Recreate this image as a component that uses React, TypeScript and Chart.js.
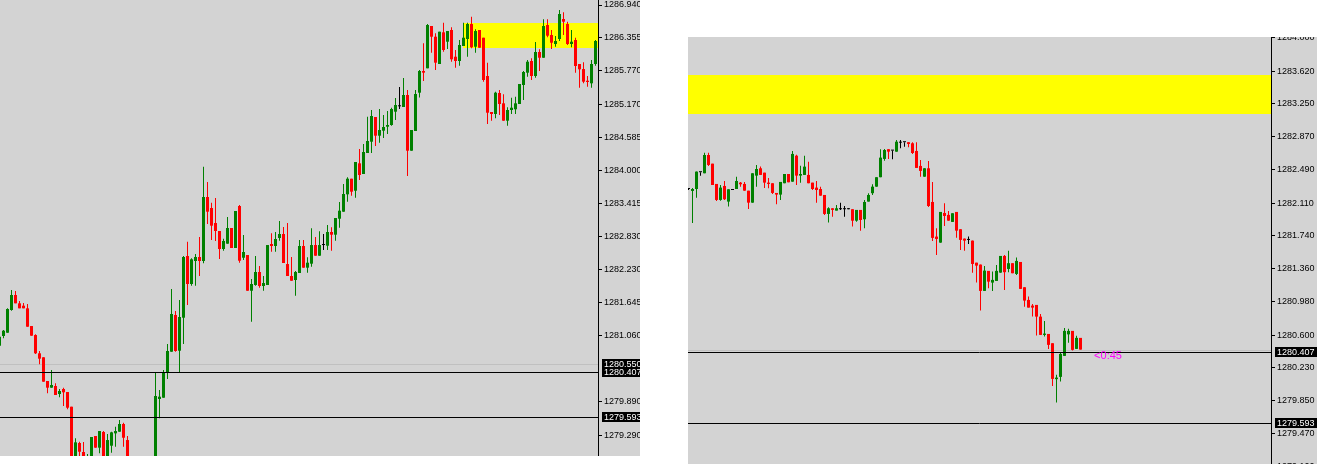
import React, { useEffect, useRef } from "react";
import { Chart, registerables } from "chart.js";

Chart.register(...registerables);

// ---------- LEFT PANEL DATA (one candle per index) ----------
const LEFT_OPEN = [
  1280.879, 1281.052, 1281.110, 1281.514, 1281.781, 1281.633, 1281.591, 1281.544, 1281.229, 1281.069,
  1280.744, 1280.673, 1280.251, 1280.132, 1280.162, 1280.020, 1280.109, 1280.055, 1279.794, 1278.800,
  1279.148, 1278.988, 1278.700, 1278.850, 1279.273, 1279.065, 1279.344, 1278.880, 1279.100, 1279.320,
  1279.349, 1279.486, 1279.201, 1278.850, 1278.700, 1278.780, 1278.720, 1278.800, 1278.740, 1278.850,
  1279.931, 1279.954, 1280.406, 1280.772, 1281.425, 1280.790, 1281.377, 1282.475, 1281.977, 1282.386,
  1282.457, 1282.386, 1283.524, 1283.329, 1283.062, 1282.920, 1282.599, 1282.694, 1282.973, 1282.617,
  1283.364, 1282.444, 1282.493, 1281.857, 1281.959, 1282.190, 1281.941, 1281.959, 1282.688, 1282.653,
  1282.795, 1282.866, 1282.332, 1282.119, 1282.048, 1282.172, 1282.653, 1282.267, 1282.338, 1282.670,
  1282.480, 1282.670, 1282.658, 1282.902, 1282.854, 1283.138, 1283.263, 1283.572, 1283.850, 1283.636,
  1284.124, 1283.934, 1284.307, 1284.508, 1284.948, 1284.615, 1284.704, 1284.775, 1284.805, 1285.042,
  1285.138, 1285.126, 1285.339, 1284.348, 1284.699, 1285.380, 1285.766, 1285.814, 1286.566, 1286.376,
  1285.890, 1286.454, 1286.287, 1286.495, 1286.020, 1285.944, 1286.211, 1286.335, 1286.602, 1286.198,
  1286.495, 1286.358, 1285.677, 1285.037, 1285.001, 1285.375, 1285.191, 1284.882, 1285.072, 1285.085,
  1285.179, 1285.517, 1285.736, 1285.944, 1285.677, 1286.104, 1286.002, 1286.584, 1286.406, 1286.246,
  1286.335, 1286.691, 1286.602, 1286.246, 1286.317, 1285.890, 1285.801, 1285.593, 1285.547, 1285.890,
];
const LEFT_HIGH = [
  1281.039, 1281.158, 1281.544, 1281.870, 1281.852, 1281.674, 1281.639, 1281.621, 1281.229, 1281.082,
  1280.785, 1280.673, 1280.251, 1280.447, 1280.210, 1280.109, 1280.132, 1280.055, 1279.794, 1279.232,
  1279.171, 1279.166, 1278.952, 1279.255, 1279.273, 1279.361, 1279.361, 1279.308, 1279.349, 1279.438,
  1279.557, 1279.509, 1279.273, 1278.880, 1278.820, 1278.820, 1278.840, 1278.860, 1278.880, 1280.406,
  1280.091, 1280.447, 1280.909, 1281.888, 1281.496, 1281.692, 1282.475, 1282.729, 1282.434, 1282.510,
  1282.813, 1284.063, 1283.791, 1283.423, 1283.507, 1282.920, 1282.783, 1283.169, 1282.973, 1283.275,
  1283.382, 1282.848, 1282.493, 1282.066, 1282.475, 1282.297, 1282.119, 1282.670, 1282.879, 1282.902,
  1283.097, 1282.991, 1283.062, 1282.457, 1282.208, 1282.759, 1282.759, 1282.452, 1282.967, 1282.813,
  1282.914, 1282.866, 1283.026, 1282.985, 1283.151, 1283.435, 1283.756, 1283.875, 1283.850, 1284.147,
  1284.378, 1284.467, 1284.953, 1285.072, 1284.948, 1285.090, 1284.983, 1285.054, 1285.113, 1285.286,
  1285.481, 1285.641, 1285.428, 1284.716, 1285.428, 1285.784, 1286.259, 1286.602, 1286.566, 1286.437,
  1286.465, 1286.625, 1286.477, 1286.543, 1286.140, 1286.317, 1286.625, 1286.625, 1286.732, 1286.508,
  1286.495, 1286.358, 1285.914, 1285.037, 1285.398, 1285.428, 1285.351, 1285.120, 1285.291, 1285.309,
  1285.535, 1285.766, 1285.962, 1285.992, 1286.282, 1286.152, 1286.686, 1286.686, 1286.495, 1286.389,
  1286.851, 1286.810, 1286.643, 1286.495, 1286.358, 1285.890, 1285.921, 1285.677, 1285.962, 1286.317,
];
const LEFT_LOW = [
  1280.879, 1281.011, 1281.110, 1281.502, 1281.633, 1281.544, 1281.544, 1281.217, 1281.057, 1280.731,
  1280.548, 1280.239, 1280.032, 1280.132, 1280.002, 1279.961, 1279.806, 1279.748, 1278.700, 1278.750,
  1278.850, 1278.750, 1278.650, 1278.800, 1279.065, 1278.965, 1278.800, 1278.850, 1278.976, 1279.082,
  1279.349, 1279.082, 1278.800, 1278.650, 1278.660, 1278.680, 1278.700, 1278.700, 1278.710, 1278.800,
  1279.587, 1279.954, 1280.287, 1280.772, 1280.772, 1280.406, 1280.909, 1281.603, 1281.946, 1281.946,
  1282.119, 1282.345, 1283.044, 1282.759, 1282.742, 1282.421, 1282.569, 1282.694, 1282.617, 1282.617,
  1282.356, 1282.404, 1281.857, 1281.306, 1281.946, 1281.911, 1281.857, 1281.959, 1282.551, 1282.551,
  1282.747, 1282.350, 1282.119, 1282.035, 1281.768, 1282.172, 1282.267, 1282.178, 1282.284, 1282.480,
  1282.480, 1282.582, 1282.582, 1282.569, 1282.747, 1282.978, 1283.263, 1283.441, 1283.547, 1283.512,
  1283.827, 1283.934, 1284.307, 1284.307, 1284.432, 1284.490, 1284.574, 1284.645, 1284.793, 1284.894,
  1285.090, 1285.126, 1283.898, 1284.348, 1284.699, 1285.294, 1285.588, 1285.814, 1286.091, 1285.784,
  1285.890, 1286.109, 1286.157, 1285.931, 1285.825, 1285.860, 1286.211, 1286.020, 1286.170, 1286.091,
  1286.180, 1285.576, 1284.823, 1284.882, 1284.925, 1284.983, 1284.882, 1284.793, 1285.001, 1285.001,
  1285.179, 1285.250, 1285.664, 1285.606, 1285.647, 1285.766, 1286.002, 1286.365, 1286.157, 1286.198,
  1286.300, 1286.406, 1286.228, 1286.188, 1285.736, 1285.469, 1285.547, 1285.487, 1285.469, 1285.860,
];
const LEFT_CLOSE = [
  1281.039, 1281.146, 1281.532, 1281.781, 1281.633, 1281.544, 1281.544, 1281.217, 1281.057, 1280.744,
  1280.648, 1280.239, 1280.132, 1280.180, 1280.002, 1280.073, 1280.050, 1279.776, 1278.750, 1279.160,
  1278.993, 1278.800, 1278.850, 1279.255, 1279.065, 1279.361, 1278.850, 1279.201, 1279.338, 1279.361,
  1279.486, 1279.242, 1278.850, 1278.700, 1278.780, 1278.720, 1278.800, 1278.740, 1278.820, 1279.984,
  1279.972, 1280.406, 1280.785, 1281.443, 1280.785, 1281.390, 1282.457, 1281.977, 1282.416, 1282.457,
  1282.386, 1283.524, 1283.263, 1283.014, 1282.920, 1282.599, 1282.742, 1282.973, 1282.617, 1283.275,
  1282.391, 1282.546, 1281.857, 1281.977, 1282.190, 1281.941, 1281.994, 1282.670, 1282.653, 1282.777,
  1282.866, 1282.350, 1282.119, 1282.035, 1282.190, 1282.653, 1282.267, 1282.356, 1282.670, 1282.480,
  1282.670, 1282.670, 1282.902, 1282.854, 1283.151, 1283.281, 1283.578, 1283.850, 1283.619, 1284.147,
  1283.916, 1284.325, 1284.521, 1284.965, 1284.615, 1284.716, 1284.770, 1284.805, 1285.090, 1285.161,
  1285.138, 1285.339, 1284.348, 1284.716, 1285.357, 1285.766, 1285.736, 1286.584, 1286.376, 1285.914,
  1286.465, 1286.140, 1286.477, 1285.974, 1285.944, 1286.228, 1286.358, 1286.602, 1286.188, 1286.477,
  1286.180, 1285.606, 1285.024, 1285.001, 1285.380, 1285.179, 1284.882, 1285.072, 1285.113, 1285.191,
  1285.535, 1285.748, 1285.931, 1285.677, 1286.104, 1286.002, 1286.566, 1286.394, 1286.269, 1286.300,
  1286.780, 1286.643, 1286.246, 1286.287, 1285.855, 1285.796, 1285.576, 1285.570, 1285.890, 1286.300,
];
const LEFT_TICKS = [
  "1286.940", "1286.355", "1285.770", "1285.170", "1284.585", "1284.000", "1283.415",
  "1282.830", "1282.230", "1281.645", "1281.060", "1279.890", "1279.290",
];
const LEFT_RANGE = [1278.917, 1287.029];
const LEFT_ZONE = [115.875, 1286.614, 1286.180]; // from index, top price, bottom price
const LEFT_LINES = [1280.407, 1279.593];
const LEFT_ASK_LINE = 1280.55;
const LEFT_TAGS = ["1280.550", "1280.407", "1279.593"];

// ---------- RIGHT PANEL DATA ----------
const RIGHT_OPEN = [
  1282.270, 1282.249, 1282.271, 1282.463, 1282.451, 1282.660, 1282.561, 1282.329, 1282.146, 1282.306,
  1282.127, 1282.260, 1282.271, 1282.344, 1282.329, 1282.252, 1282.115, 1282.424, 1282.508, 1282.458,
  1282.344, 1282.337, 1282.226, 1282.207, 1282.337, 1282.443, 1282.355, 1282.652, 1282.424, 1282.432,
  1282.432, 1282.344, 1282.287, 1282.271, 1282.203, 1281.986, 1282.051, 1282.024, 1282.040, 1282.040,
  1282.040, 1282.040, 1281.909, 1282.032, 1281.925, 1282.127, 1282.223, 1282.298, 1282.406, 1282.615,
  1282.726, 1282.710, 1282.698, 1282.801, 1282.806, 1282.806, 1282.794, 1282.706, 1282.535, 1282.412,
  1282.508, 1282.123, 1281.727, 1281.658, 1281.997, 1281.975, 1281.895, 1282.009, 1281.811, 1281.704,
  1281.689, 1281.681, 1281.429, 1281.407, 1281.106, 1281.335, 1281.201, 1281.220, 1281.315, 1281.506,
  1281.357, 1281.423, 1281.300, 1281.437, 1281.148, 1281.003, 1280.938, 1280.946, 1280.812, 1280.603,
  1280.614, 1280.508, 1280.097, 1280.123, 1280.363, 1280.609, 1280.649, 1280.443, 1280.569,
];
const RIGHT_HIGH = [
  1282.283, 1282.283, 1282.470, 1282.463, 1282.687, 1282.687, 1282.561, 1282.329, 1282.317, 1282.363,
  1282.268, 1282.260, 1282.412, 1282.352, 1282.352, 1282.252, 1282.451, 1282.546, 1282.527, 1282.458,
  1282.397, 1282.337, 1282.226, 1282.352, 1282.443, 1282.443, 1282.706, 1282.664, 1282.538, 1282.652,
  1282.584, 1282.344, 1282.363, 1282.298, 1282.203, 1282.063, 1282.051, 1282.089, 1282.115, 1282.077,
  1282.040, 1282.040, 1282.032, 1282.032, 1282.146, 1282.223, 1282.325, 1282.406, 1282.726, 1282.729,
  1282.726, 1282.710, 1282.832, 1282.832, 1282.806, 1282.806, 1282.806, 1282.806, 1282.603, 1282.508,
  1282.592, 1282.352, 1281.823, 1282.009, 1282.108, 1282.020, 1281.994, 1282.009, 1281.811, 1281.704,
  1281.727, 1281.681, 1281.429, 1281.407, 1281.392, 1281.335, 1281.327, 1281.403, 1281.506, 1281.517,
  1281.566, 1281.423, 1281.487, 1281.437, 1281.148, 1281.041, 1280.957, 1280.946, 1280.843, 1280.763,
  1280.614, 1280.508, 1280.146, 1280.401, 1280.683, 1280.672, 1280.649, 1280.592, 1280.569,
];
const RIGHT_LOW = [
  1282.260, 1281.883, 1282.172, 1282.424, 1282.451, 1282.535, 1282.317, 1282.135, 1282.138, 1282.146,
  1282.070, 1282.260, 1282.271, 1282.298, 1282.252, 1282.043, 1282.115, 1282.298, 1282.432, 1282.283,
  1282.280, 1282.215, 1282.097, 1282.146, 1282.337, 1282.348, 1282.355, 1282.317, 1282.344, 1282.432,
  1282.337, 1282.260, 1282.115, 1282.195, 1281.975, 1281.887, 1281.955, 1282.024, 1282.032, 1281.955,
  1282.040, 1281.841, 1281.898, 1281.795, 1281.823, 1282.127, 1282.203, 1282.298, 1282.406, 1282.595,
  1282.615, 1282.611, 1282.698, 1282.737, 1282.755, 1282.748, 1282.672, 1282.512, 1282.412, 1282.412,
  1282.066, 1281.677, 1281.517, 1281.658, 1281.849, 1281.909, 1281.895, 1281.715, 1281.574, 1281.566,
  1281.643, 1281.315, 1281.201, 1280.881, 1281.106, 1281.137, 1281.106, 1281.220, 1281.315, 1281.117,
  1281.320, 1281.308, 1281.289, 1281.129, 1280.926, 1280.915, 1280.812, 1280.595, 1280.603, 1280.584,
  1280.443, 1280.020, 1279.829, 1280.069, 1280.363, 1280.512, 1280.424, 1280.443, 1280.435,
];
const RIGHT_CLOSE = [
  1282.270, 1282.271, 1282.470, 1282.463, 1282.660, 1282.546, 1282.317, 1282.146, 1282.287, 1282.154,
  1282.268, 1282.260, 1282.363, 1282.325, 1282.252, 1282.115, 1282.451, 1282.500, 1282.432, 1282.344,
  1282.329, 1282.226, 1282.207, 1282.352, 1282.443, 1282.348, 1282.672, 1282.424, 1282.443, 1282.527,
  1282.337, 1282.271, 1282.260, 1282.195, 1281.986, 1282.051, 1282.032, 1282.051, 1282.040, 1282.040,
  1282.040, 1281.909, 1282.032, 1281.917, 1282.123, 1282.203, 1282.298, 1282.406, 1282.630, 1282.717,
  1282.698, 1282.710, 1282.812, 1282.801, 1282.806, 1282.786, 1282.683, 1282.512, 1282.478, 1282.508,
  1282.077, 1281.712, 1281.700, 1282.009, 1281.963, 1281.909, 1281.994, 1281.795, 1281.689, 1281.681,
  1281.689, 1281.414, 1281.395, 1281.106, 1281.338, 1281.212, 1281.232, 1281.335, 1281.506, 1281.320,
  1281.423, 1281.308, 1281.449, 1281.129, 1280.995, 1280.915, 1280.915, 1280.812, 1280.603, 1280.618,
  1280.489, 1280.100, 1280.115, 1280.386, 1280.649, 1280.649, 1280.432, 1280.569, 1280.435,
];
const RIGHT_TICKS = [
  "1284.000", "1283.620", "1283.250", "1282.870", "1282.490", "1282.110", "1281.740",
  "1281.360", "1280.980", "1280.600", "1280.230", "1279.850", "1279.470", "1279.100",
];
const RIGHT_RANGE = [1279.127, 1284.009];
const RIGHT_ZONE = [-0.125, 1283.574, 1283.128];
const RIGHT_LINES = [1280.407, 1279.593];
const RIGHT_ASK_LINE = 1280.43;
const RIGHT_TAGS = ["1280.407", "1279.593"];
const COUNTDOWN = ["<0:45", 101.4, 1280.367] as const;

// ---------- STYLE ----------
const BG = "#d3d3d3";
const UP = "#008000";
const DOWN = "#ff0000";
const FLAT = "#000000";
const ZONE = "#ffff00";
const AXIS_FONT = "Liberation Sans";

type PanelSpec = {
  open: number[]; high: number[]; low: number[]; close: number[];
  xMin: number; xMax: number; yMin: number; yMax: number;
  ticks: string[]; axisWidth: number;
  zone: number[]; lines: number[]; ask: number; tags: string[];
  countdown?: readonly [string, number, number];
};

function buildConfig(p: PanelSpec): any {
  const idx = p.open.map((_, i) => i);
  const colors = idx.map((i) =>
    p.close[i] > p.open[i] ? UP : p.close[i] < p.open[i] ? DOWN : FLAT
  );
  const overlay = {
    id: "overlay",
    beforeDatasetsDraw(chart: any) {
      const { ctx, chartArea: a, scales } = chart;
      const x = scales.x, y = scales.y;
      ctx.save();
      const zx1 = Math.max(a.left, Math.round(x.getPixelForValue(p.zone[0])));
      const zy1 = Math.round(y.getPixelForValue(p.zone[1]));
      const zy2 = Math.round(y.getPixelForValue(p.zone[2]));
      ctx.fillStyle = ZONE;
      ctx.fillRect(zx1, zy1, a.right - zx1, zy2 - zy1);
      ctx.strokeStyle = "#c0c0c0";
      ctx.lineWidth = 1;
      const ya = Math.floor(y.getPixelForValue(p.ask)) + 0.5;
      ctx.beginPath();
      ctx.moveTo(a.left, ya);
      ctx.lineTo(a.right, ya);
      ctx.stroke();
      ctx.restore();
    },
    afterDatasetsDraw(chart: any) {
      const { ctx, chartArea: a, scales } = chart;
      ctx.save();
      ctx.strokeStyle = "#000000";
      ctx.lineWidth = 1;
      for (const v of p.lines) {
        const yy = Math.floor(scales.y.getPixelForValue(v)) + 0.5;
        ctx.beginPath();
        ctx.moveTo(a.left, yy);
        ctx.lineTo(a.right, yy);
        ctx.stroke();
      }
      ctx.restore();
    },
    afterDraw(chart: any) {
      const { ctx, chartArea: a, scales, width } = chart;
      ctx.save();
      ctx.font = `9px "${AXIS_FONT}"`;
      ctx.textBaseline = "middle";
      ctx.textAlign = "left";
      for (const t of p.tags) {
        const yy = Math.floor(scales.y.getPixelForValue(parseFloat(t)));
        const bx = Math.round(a.right) + 4;
        ctx.fillStyle = "#000000";
        ctx.fillRect(bx, yy - 5, width - bx, 10);
        ctx.fillStyle = "#ffffff";
        ctx.fillText(t, Math.round(a.right) + 6, yy + 0.5);
      }
      if (p.countdown) {
        const [txt, xi, pv] = p.countdown;
        ctx.font = `11px "${AXIS_FONT}"`;
        ctx.fillStyle = "#ff00ff";
        ctx.fillText(txt, scales.x.getPixelForValue(xi), scales.y.getPixelForValue(pv));
      }
      ctx.restore();
    },
  };

  return {
    type: "bar",
    data: {
      datasets: [
        {
          label: "wick",
          data: idx.map((i) => ({ x: i, y: [p.low[i], p.high[i]] })),
          backgroundColor: colors,
          barThickness: 1,
          grouped: false,
          inflateAmount: 0,
          borderWidth: 0,
          minBarLength: 1,
          order: 2,
        },
        {
          label: "body",
          data: idx.map((i) => ({
            x: i,
            y: [Math.min(p.open[i], p.close[i]), Math.max(p.open[i], p.close[i])],
          })),
          backgroundColor: colors,
          barThickness: 3,
          grouped: false,
          inflateAmount: 0,
          borderWidth: 0,
          minBarLength: 1,
          order: 1,
        },
      ],
    },
    options: {
      animation: false,
      responsive: false,
      maintainAspectRatio: false,
      devicePixelRatio: 1,
      events: [],
      layout: { padding: 0 },
      plugins: { legend: { display: false }, tooltip: { enabled: false } },
      scales: {
        x: {
          type: "linear",
          min: p.xMin,
          max: p.xMax,
          offset: false,
          display: false,
        },
        y: {
          type: "linear",
          position: "right",
          min: p.yMin,
          max: p.yMax,
          afterBuildTicks: (s: any) => {
            s.ticks = p.ticks.map((t) => ({ value: parseFloat(t) }));
          },
          afterFit: (s: any) => {
            s.width = p.axisWidth;
            s.paddingTop = 0;
            s.paddingBottom = 0;
          },
          grid: {
            drawOnChartArea: false,
            drawTicks: true,
            tickLength: 4,
            color: "#000000",
            lineWidth: 1,
          },
          border: { display: true, color: "#000000", width: 1 },
          ticks: {
            autoSkip: false,
            padding: 2,
            color: "#000000",
            font: { family: AXIS_FONT, size: 9 },
            callback: (_v: any, i: number) => p.ticks[i],
          },
        },
      },
    },
    plugins: [overlay],
  };
}

function PanelChart(props: { spec: PanelSpec; left: number; top: number; width: number; height: number }) {
  const ref = useRef<HTMLCanvasElement | null>(null);
  useEffect(() => {
    if (!ref.current) return;
    const chart = new Chart(ref.current, buildConfig(props.spec));
    return () => chart.destroy();
  }, []);
  return (
    <canvas
      ref={ref}
      width={props.width}
      height={props.height}
      style={{
        position: "absolute",
        left: props.left,
        top: props.top,
        width: props.width,
        height: props.height,
        background: BG,
        display: "block",
      }}
    />
  );
}

const leftSpec: PanelSpec = {
  open: LEFT_OPEN, high: LEFT_HIGH, low: LEFT_LOW, close: LEFT_CLOSE,
  xMin: 0.125, xMax: 149.625, yMin: LEFT_RANGE[0], yMax: LEFT_RANGE[1],
  ticks: LEFT_TICKS, axisWidth: 42,
  zone: LEFT_ZONE, lines: LEFT_LINES, ask: LEFT_ASK_LINE, tags: LEFT_TAGS,
};

const rightSpec: PanelSpec = {
  open: RIGHT_OPEN, high: RIGHT_HIGH, low: RIGHT_LOW, close: RIGHT_CLOSE,
  xMin: -0.125, xMax: 145.625, yMin: RIGHT_RANGE[0], yMax: RIGHT_RANGE[1],
  ticks: RIGHT_TICKS, axisWidth: 46,
  zone: RIGHT_ZONE, lines: RIGHT_LINES, ask: RIGHT_ASK_LINE, tags: RIGHT_TAGS,
  countdown: COUNTDOWN,
};

export default function App() {
  return (
    <div
      style={{
        position: "absolute",
        left: 0,
        top: 0,
        width: 1327,
        height: 471,
        background: "#ffffff",
        overflow: "hidden",
      }}
    >
      <PanelChart spec={leftSpec} left={0} top={0} width={640} height={456} />
      <PanelChart spec={rightSpec} left={688} top={37} width={629} height={427} />
    </div>
  );
}
